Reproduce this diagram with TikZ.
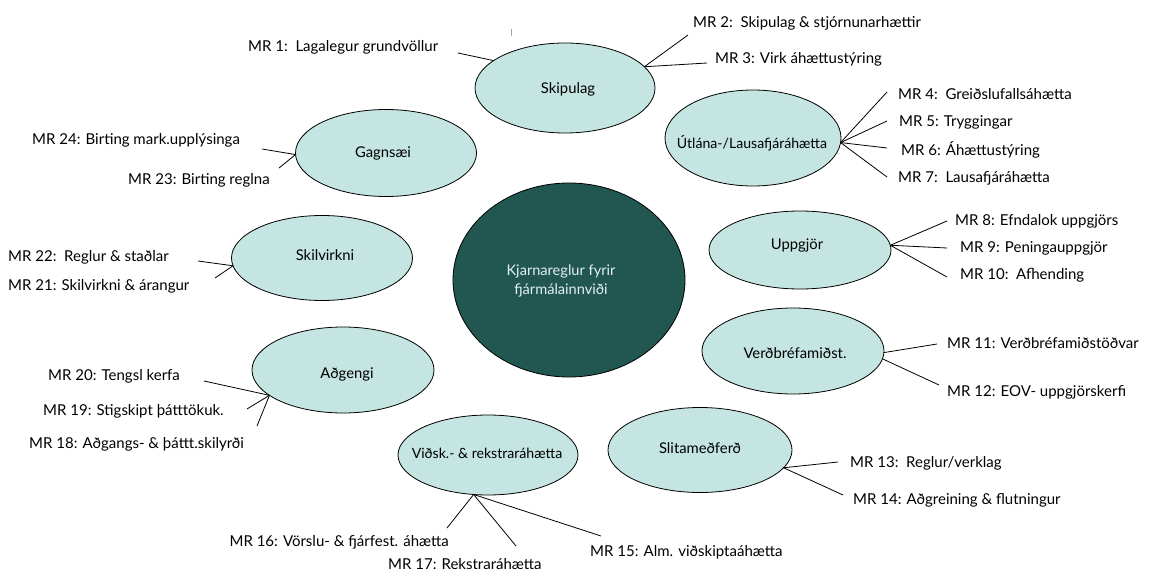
\documentclass[tikz,border=0pt]{standalone}
\usepackage{fontspec}
\setmainfont{Lato}
\usetikzlibrary{shapes.geometric}
\definecolor{satfill}{HTML}{C4E5E1}
\definecolor{corefill}{HTML}{225651}
\definecolor{coretext}{HTML}{E2F0EE}
\definecolor{tickcol}{HTML}{9AA8C0}
\begin{document}
\begin{tikzpicture}[x=1pt,y=-1pt,
  sat/.style={ellipse, draw=black, line width=0.8pt, fill=satfill, inner sep=0pt, outer sep=0pt},
  core/.style={ellipse, draw=black, line width=0.8pt, fill=corefill, inner sep=0pt, outer sep=0pt},
  lbl/.style={font=\fontsize{14.1}{17}\selectfont, text=black, inner sep=0pt},
  biglbl/.style={font=\fontsize{14.8}{18}\selectfont, text=black, inner sep=0pt},
  mrtext/.style={font=\fontsize{15}{18}\selectfont, text=black, inner sep=0pt},
  mr/.style={mrtext, anchor=west},
  conn/.style={draw=black, line width=0.8pt}]
\useasboundingbox (0,0) rectangle (1150,572);

% ellipses
\node[core, minimum width=232pt, minimum height=194pt] (core) at (569,280) {};
\node[sat, minimum width=180pt, minimum height=90pt] (skip) at (565,88) {};
\node[sat, minimum width=176pt, minimum height=96pt] (utl) at (753,138) {};
\node[sat, minimum width=181pt, minimum height=87pt] (gagn) at (386,153) {};
\node[sat, minimum width=181pt, minimum height=85pt] (skil) at (322,258) {};
\node[sat, minimum width=182pt, minimum height=86pt] (adg) at (343,370) {};
\node[sat, minimum width=180pt, minimum height=80pt] (vidsk) at (488,455) {};
\node[sat, minimum width=184pt, minimum height=85pt] (slit) at (700,450) {};
\node[sat, minimum width=182pt, minimum height=86pt] (verd) at (793,351) {};
\node[sat, minimum width=182pt, minimum height=78pt] (uppg) at (800,250) {};

% ellipse texts
\node[lbl, text=coretext, align=center, font=\fontsize{14.6}{19}\selectfont] (tcore) at (561,281) {Kjarnareglur fyrir\\ fjármálainnviði};
\node[biglbl] (tskip) at (568,89) {Skipulag};
\node[lbl] (tutl) at (752,143) {Útlána-/Lausafjáráhætta};
\node[biglbl] (tgagn) at (383,153) {Gagnsæi};
\node[biglbl] (tskil) at (325,255) {Skilvirkni};
\node[biglbl] (tadg) at (347,374) {Aðgengi};
\node[lbl] (tvidsk) at (487,453) {Viðsk.- \& rekstraráhætta};
\node[biglbl] (tslit) at (700,448) {Slitameðferð};
\node[biglbl] (tverd) at (795,353) {Verðbréfamiðst.};
\node[biglbl] (tuppg) at (797,245) {Uppgjör};

% MR labels
\node[mr] (mr1) at (248,47) {MR 1:\ \ Lagalegur grundvöllur};
\node[mr] (mr2) at (693,23) {MR 2:\ \ Skipulag \& stjórnunarhættir};
\node[mr] (mr3) at (715,59) {MR 3: Virk áhættustýring};
\node[mr] (mr4) at (898,94) {MR 4:\ \ Greiðslufallsáhætta};
\node[mr] (mr5) at (899,122) {MR 5: Tryggingar};
\node[mr] (mr6) at (901,150) {MR 6: Áhættustýring};
\node[mr] (mr7) at (898,178) {MR 7:\ \ Lausafjáráhætta};
\node[mr] (mr8) at (955,221) {MR 8: Efndalok uppgjörs};
\node[mr] (mr9) at (960,248) {MR 9: Peningauppgjör};
\node[mr] (mr10) at (960,275) {MR 10:\ \ Afhending};
\node[mr] (mr11) at (947,343) {MR 11: Verðbréfamiðstöðvar};
\node[mr] (mr12) at (947,392) {MR 12: EOV- uppgjörskerfi};
\node[mr] (mr13) at (850,463) {MR 13:\ \ Reglur/verklag};
\node[mr] (mr14) at (853,500) {MR 14: Aðgreining \& flutningur};
\node[mr] (mr15) at (590,552) {MR 15: Alm. viðskiptaáhætta};
\node[mrtext, anchor=east] (mr16) at (449,542) {MR 16: Vörslu- \& fjárfest. áhætta};
\node[mr] (mr17) at (388,564) {MR 17: Rekstraráhætta};
\node[mr] (mr18) at (29,444) {MR 18: Aðgangs- \& þáttt.skilyrði};
\node[mr] (mr19) at (43,411) {MR 19: Stigskipt þátttökuk.};
\node[mr] (mr20) at (48,376) {MR 20: Tengsl kerfa};
\node[mr] (mr21) at (8,286) {MR 21: Skilvirkni \& árangur};
\node[mr] (mr22) at (8,257) {MR 22:\ \ Reglur \& staðlar};
\node[mr] (mr23) at (128,180) {MR 23: Birting reglna};
\node[mr] (mr24) at (32,140) {MR 24: Birting mark.upplýsinga};

% free ends of connectors
\coordinate (e1) at (458,53);
\coordinate (e2) at (688,35);
\coordinate (e3) at (707,63);
\coordinate (e4) at (887,92);
\coordinate (e5) at (887,121);
\coordinate (e6) at (887,148);
\coordinate (e7) at (887,177);
\coordinate (e8) at (947,221);
\coordinate (e9) at (947,248);
\coordinate (e10) at (947,277);
\coordinate (e11) at (937,344);
\coordinate (e12) at (939,385);
\coordinate (e13) at (838,462);
\coordinate (e14) at (843,495);
\coordinate (e15) at (601,536);
\coordinate (e16) at (447,528);
\coordinate (e17) at (516,546);
\coordinate (e18) at (257,426);
\coordinate (e19) at (247,409);
\coordinate (e20) at (204,381);
\coordinate (e21) at (215,278);
\coordinate (e22) at (198,261);
\coordinate (e23) at (279,168);
\coordinate (e24) at (262,149);

% connectors
\draw[conn] (skip.159) -- (e1);
\draw[conn] (skip.15) -- (e2);
\draw[conn] (skip.15) -- (e3);
\draw[conn] (utl.-3) -- (e4);
\draw[conn] (utl.-3) -- (e5);
\draw[conn] (utl.-3) -- (e6);
\draw[conn] (utl.-3) -- (e7);
\draw[conn] (uppg.3) -- (e8);
\draw[conn] (uppg.3) -- (e9);
\draw[conn] (uppg.3) -- (e10);
\draw[conn] (verd.-1) -- (e11);
\draw[conn] (verd.-5) -- (e12);
\draw[conn] (slit.-12) -- (e13);
\draw[conn] (slit.-12) -- (e14);
\draw[conn] (vidsk.-110) -- (e15);
\draw[conn] (vidsk.-110) -- (e16);
\draw[conn] (vidsk.-110) -- (e17);
\draw[conn] (adg.199) -- (e18);
\draw[conn] (adg.199) -- (e19);
\draw[conn] (adg.199) -- (e20);
\draw[conn] (skil.185) -- (e21);
\draw[conn] (skil.185) -- (e22);
\draw[conn] (gagn.181) -- (e23);
\draw[conn] (gagn.181) -- (e24);

% stray tick mark
\draw[tickcol, line width=0.8pt] (511,29) -- (511,36);
\end{tikzpicture}
\end{document}
